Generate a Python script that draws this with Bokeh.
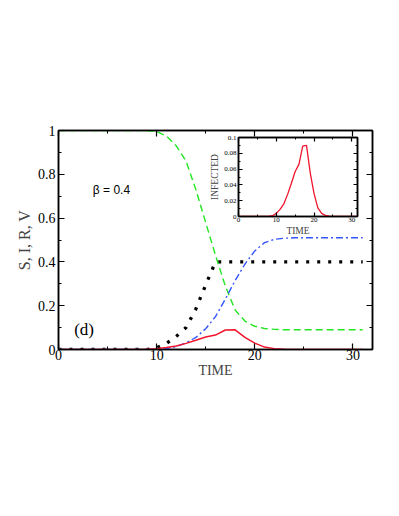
from bokeh.plotting import figure
from bokeh.models import Range1d, LinearAxis, FixedTicker, Label, CustomLabelingPolicy
from bokeh.layouts import column
from bokeh.embed import file_html
from bokeh.resources import INLINE

# ---- data ----
time = list(range(0, 32))
S = [1.0]*10 + [0.995, 0.975, 0.93, 0.86, 0.73, 0.58, 0.43, 0.29, 0.18, 0.13,
                0.106, 0.096, 0.092] + [0.09]*9
I = [0.0]*9 + [0.001, 0.004, 0.009, 0.016, 0.028, 0.042, 0.057, 0.066, 0.089, 0.09,
               0.055, 0.029, 0.011, 0.004, 0.0015, 0.0005] + [0.0]*7
R = [0.0]*11 + [0.004, 0.013, 0.03, 0.055, 0.095, 0.15, 0.23, 0.315, 0.39, 0.45,
                0.488, 0.503, 0.508] + [0.51]*8
V = [0.0]*10 + [0.008, 0.028, 0.06, 0.1, 0.185, 0.295] + [0.4]*16

x_ticks = [0, 10, 20, 30]
x_minor = [5, 15, 25]
y_ticks = [0, 0.2, 0.4, 0.6, 0.8, 1]
y_labels = ["0", "0.2", "0.4", "0.6", "0.8", "1"]
y_minor = [0.1, 0.3, 0.5, 0.7, 0.9]
iy_ticks = [0, 0.02, 0.04, 0.06, 0.08, 0.1]
iy_labels = ["0", "0.02", "0.04", "0.06", "0.08", "0.1"]
iy_minor = [0.01, 0.03, 0.05, 0.07, 0.09]

SERIF = "Liberation Serif"
GREEN = "#22e622"
BLUE = "#3355ff"
RED = "#f0142d"


def style_axis(ax, ticks, minor, labels, font_size, major_len, minor_len, show_labels=True):
    ax.ticker = FixedTicker(ticks=ticks, minor_ticks=minor)
    ax.major_tick_in = major_len
    ax.major_tick_out = 0
    ax.minor_tick_in = minor_len
    ax.minor_tick_out = 0
    ax.axis_line_width = 1.5
    ax.axis_line_color = "black"
    ax.major_tick_line_color = "black"
    ax.minor_tick_line_color = "black"
    ax.major_tick_line_width = 1.2
    ax.minor_tick_line_width = 1.0
    if show_labels:
        ax.major_label_text_font = SERIF
        ax.major_label_text_font_size = font_size
        ax.major_label_text_color = "black"
        if labels is not None:
            ax.major_label_overrides = {t: l for t, l in zip(ticks, labels)}
    else:
        # mirrored tick axis: ticks only, no labels and no space for them
        ax.major_label_overrides = {t: "" for t in ticks}
        ax.major_label_text_font_size = "1px"
        ax.major_label_standoff = 0
        ax.major_label_policy = CustomLabelingPolicy(
            code="for (const i of indices) indices.unset(i)")
        ax.axis_label = None


# ---- main figure ----
p = figure(width=388, height=389, x_range=Range1d(0, 32), y_range=Range1d(0, 1),
           output_backend="svg", toolbar_location=None,
           min_border_left=58, min_border_right=16, min_border_top=130,
           min_border_bottom=40)
p.xgrid.visible = False
p.ygrid.visible = False
p.outline_line_color = "black"
p.outline_line_width = 1.5
p.align = "start"

xa = p.xaxis[0]
style_axis(xa, x_ticks, x_minor, [str(t) for t in x_ticks], "14px", 6, 3)
xa.major_label_standoff = 0
xa.axis_label = "TIME"
xa.axis_label_text_font = SERIF
xa.axis_label_text_font_size = "14px"
xa.axis_label_text_font_style = "normal"
xa.axis_label_standoff = 0

ya = p.yaxis[0]
style_axis(ya, y_ticks, y_minor, y_labels, "14px", 6, 3)
ya.major_label_standoff = 3
ya.axis_label = "S, I, R, V"
ya.axis_label_text_font = SERIF
ya.axis_label_text_font_size = "16px"
ya.axis_label_text_font_style = "normal"
ya.axis_label_standoff = 2

top = LinearAxis()
style_axis(top, x_ticks, x_minor, None, None, 6, 3, show_labels=False)
p.add_layout(top, "above")
right = LinearAxis()
style_axis(right, y_ticks, y_minor, None, None, 6, 3, show_labels=False)
p.add_layout(right, "right")

p.line(time, V, color="black", line_width=3.3, line_dash="3 8")
p.line(time, S, color=GREEN, line_width=1.4, line_dash="7 4")
p.line(time, R, color=BLUE, line_width=1.4, line_dash="7 3 2 3")
p.line(time, I, color=RED, line_width=1.5)

p.add_layout(Label(x=3.5, y=0.73, text="β = 0.4", text_font="Liberation Sans",
                   text_font_size="12px", text_baseline="middle", text_color="black"))
p.add_layout(Label(x=1.6, y=0.09, text="(d)", text_font=SERIF,
                   text_font_size="17px", text_baseline="middle", text_color="black"))

# ---- inset figure (column aligns its side borders with the main plot) ----
ins = figure(width=193, height=107, x_range=Range1d(0, 31.5),
             y_range=Range1d(0, 0.1),
             output_backend="svg", toolbar_location=None,
             min_border_left=58, min_border_right=16, min_border_top=6,
             min_border_bottom=18)
ins.xgrid.visible = False
ins.ygrid.visible = False
ins.outline_line_color = "black"
ins.outline_line_width = 1.5
ins.background_fill_alpha = 0
ins.border_fill_alpha = 0
ins.align = "start"

ixa = ins.xaxis[0]
style_axis(ixa, x_ticks, x_minor, [str(t) for t in x_ticks], "7px", 4, 2)
ixa.major_label_standoff = 1
ixa.axis_label = "TIME"
ixa.axis_label_text_font = SERIF
ixa.axis_label_text_font_size = "9.5px"
ixa.axis_label_text_font_style = "normal"
ixa.axis_label_standoff = 1

iya = ins.yaxis[0]
style_axis(iya, iy_ticks, iy_minor, iy_labels, "7px", 4, 2)
iya.major_label_standoff = 2
iya.axis_label = "INFECTED"
iya.axis_label_text_font = SERIF
iya.axis_label_text_font_size = "9.5px"
iya.axis_label_text_font_style = "normal"
iya.axis_label_standoff = 1

itop = LinearAxis()
style_axis(itop, x_ticks, x_minor, None, None, 4, 2, show_labels=False)
ins.add_layout(itop, "above")
iright = LinearAxis()
style_axis(iright, iy_ticks, iy_minor, None, None, 4, 2, show_labels=False)
ins.add_layout(iright, "right")

ins.line(time, I, color=RED, line_width=1.3)

ins.margin = (131 - 389, 0, 389 - 131 - 107, 180)

layout = column(p, ins)
open("out.html", "w").write(file_html(layout, INLINE))
